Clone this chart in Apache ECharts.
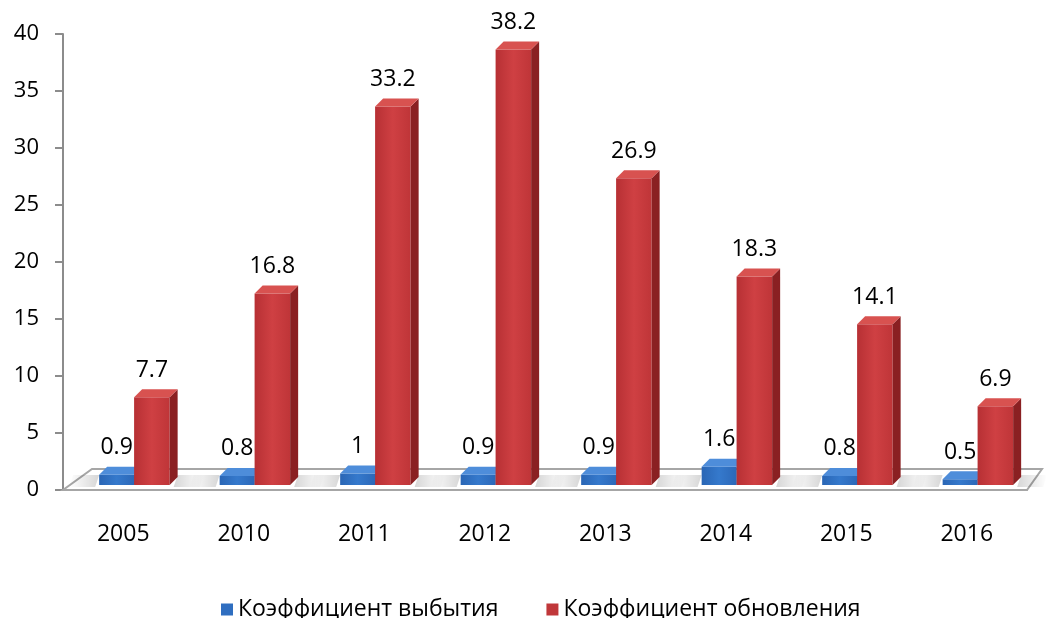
<!DOCTYPE html>
<html>
<head>
<meta charset="utf-8">
<script src="https://cdn.jsdelivr.net/npm/echarts@6/dist/echarts.min.js"></script>
<style>
  html, body { margin: 0; padding: 0; background: #fff; }
  #chart { width: 1046px; height: 618px; }
</style>
</head>
<body>
<div id="chart"></div>
<script>
// данные
const years = ['2005', '2010', '2011', '2012', '2013', '2014', '2015', '2016']
const retirement = [0.9, 0.8, 1, 0.9, 0.9, 1.6, 0.8, 0.5]
const renewal = [7.7, 16.8, 33.2, 38.2, 26.9, 18.3, 14.1, 6.9]
const seriesNames = ['Коэффициент выбытия', 'Коэффициент обновления']

const FONT = 'Open Sans'
const DEPTH = 8   // глубина псевдо-3D
const LIFT = 5    // столбцы стоят на полу, чуть выше оси

const makeBar = (left, right, col, shadowSide) => {
  return function (params, api) {
    const i = api.value(0)
    const v = api.value(1)
    const base = api.coord([i, 0])
    const top = api.coord([i, v])
    const bw = api.size([1, 0])[0]
    const x0 = base[0] + bw * left
    const x1 = base[0] + bw * right
    const yb = base[1] - LIFT
    const yt = top[1] - LIFT
    // тень на полу
    const sx = shadowSide < 0 ? x0 - 26 : x1 + DEPTH
    const shadow = {
      type: 'polygon',
      shape: { points: [[sx, yb - 10], [sx + 26, yb - 10], [sx + 26 - 4, yb + 2], [sx - 4, yb + 2]] },
      style: {
        fill: new echarts.graphic.LinearGradient(shadowSide < 0 ? 1 : 0, 0, shadowSide < 0 ? 0 : 1, 0, [
          { offset: 0, color: 'rgba(0,0,0,0.16)' },
          { offset: 1, color: 'rgba(0,0,0,0)' }
        ])
      }
    }
    return {
      type: 'group',
      children: [
        shadow,
        {
          type: 'rect',
          shape: { x: x0, y: yt, width: x1 - x0, height: yb - yt },
          style: {
            fill: new echarts.graphic.LinearGradient(0, 0, 1, 0, [
              { offset: 0, color: col.front[0] },
              { offset: 0.5, color: col.front[1] },
              { offset: 1, color: col.front[2] }
            ])
          }
        },
        {
          type: 'polygon',
          shape: { points: [[x1, yt], [x1 + DEPTH, yt - DEPTH], [x1 + DEPTH, yb - DEPTH], [x1, yb]] },
          style: { fill: col.side }
        },
        {
          type: 'polygon',
          shape: { points: [[x0, yt], [x0 + DEPTH, yt - DEPTH], [x1 + DEPTH, yt - DEPTH], [x1, yt]] },
          style: { fill: col.top }
        },
        {
          type: 'text',
          z2: 100,
          style: {
            text: String(v),
            x: (x0 + x1) / 2,
            y: yt - 27,
            align: 'center',
            verticalAlign: 'middle',
            fill: '#000',
            font: '23px "' + FONT + '"'
          }
        }
      ]
    }
  }
}

const renderFloor = (params, api) => {
  if (params.dataIndex !== 0) return
  const cs = params.coordSys
  const yf = cs.y + cs.height
  const yk = yf - 21
  return {
    type: 'polygon',
    shape: { points: [[cs.x, yf], [cs.x + cs.width, yf], [cs.x + cs.width + 15, yk], [cs.x + 29, yk]] },
    style: { fill: '#fff', stroke: '#A6A6A6', lineWidth: 2 }
  }
}

const chart = echarts.init(document.getElementById('chart'))
chart.setOption({
  animation: false,
  textStyle: { fontFamily: FONT },
  grid: { left: 63, right: 19, top: 34, bottom: 128 },
  legend: {
    top: 593,
    left: 216,
    itemWidth: 12,
    itemHeight: 12,
    itemGap: 48,
    icon: 'rect',
    textStyle: { fontSize: 23, color: '#000', fontFamily: FONT },
    data: seriesNames
  },
  xAxis: {
    type: 'category',
    data: years,
    axisLine: { lineStyle: { color: '#A6A6A6', width: 2 } },
    axisTick: { length: 10, lineStyle: { color: '#A6A6A6', width: 2 } },
    axisLabel: { color: '#000', fontSize: 23, margin: 33 }
  },
  yAxis: {
    type: 'value',
    min: 0,
    max: 40,
    interval: 5,
    splitLine: { show: false },
    axisLine: { show: true, lineStyle: { color: '#8C8C8C', width: 2 } },
    axisTick: { show: true, length: 8, lineStyle: { color: '#8C8C8C', width: 2 } },
    axisLabel: { color: '#000', fontSize: 22, margin: 24 }
  },
  series: [
    {
      type: 'custom',
      name: 'floor',
      silent: true,
      renderItem: renderFloor,
      data: [[0, 0]],
      clip: false
    },
    {
      type: 'custom',
      name: seriesNames[0],
      itemStyle: { color: '#2F6EC0' },
      renderItem: makeBar(-0.2, 0.09, {
        front: ['#2A66B5', '#3579CC', '#2C68B8'],
        side: '#1F4F8F',
        top: '#4E8DDA'
      }, -1),
      data: retirement.map((v, i) => [i, v]),
      clip: false
    },
    {
      type: 'custom',
      name: seriesNames[1],
      itemStyle: { color: '#C0373A' },
      renderItem: makeBar(0.09, 0.385, {
        front: ['#B73034', '#CF4043', '#BF3538'],
        side: '#8A2022',
        top: '#D85250'
      }, 1),
      data: renewal.map((v, i) => [i, v]),
      clip: false
    }
  ]
})
</script>
</body>
</html>
